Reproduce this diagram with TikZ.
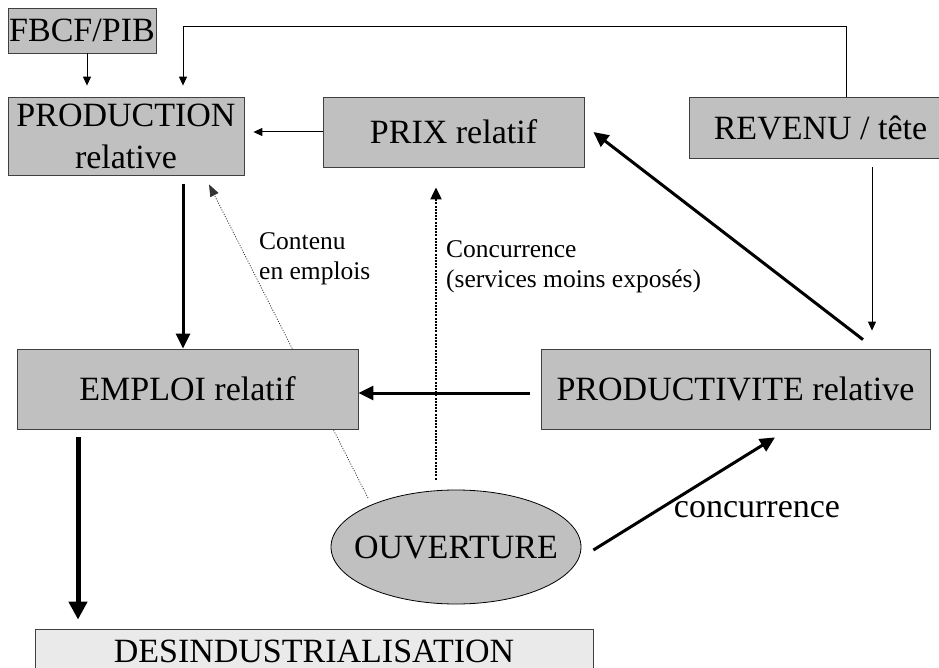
\documentclass[tikz,border=0pt]{standalone}
\usepackage{fontspec}
\setmainfont{Liberation Serif}
\usetikzlibrary{arrows.meta, shapes.geometric, backgrounds}
\definecolor{boxgray}{HTML}{C0C0C0}
\definecolor{pale}{HTML}{EAEAEA}
\definecolor{edge}{HTML}{404040}

\begin{document}
\begin{tikzpicture}[x=1pt, y=-1pt, font=\fontsize{34}{42}\selectfont,
  s/.style={draw=edge, line width=0.8pt, fill=boxgray, inner sep=0pt, align=center},
  ov/.style={ellipse, draw=black, line width=0.8pt, fill=boxgray, inner xsep=-17.2pt, inner ysep=0pt},
  lab/.style={font=\fontsize{25.5}{30}\selectfont, align=left, inner sep=0pt, anchor=west},
  tarr/.style={-{Triangle[length=9pt, width=8pt]}, line width=1pt},
  arr/.style={-{Triangle[length=15pt, width=14pt]}, line width=3pt},
  farr/.style={-{Triangle[length=18pt, width=18pt]}, line width=5pt},
  darr/.style={-{Triangle[length=12pt, width=11pt]}, line width=2pt, dash pattern=on 2pt off 1.2pt},
  fine/.style={-{Triangle[length=12pt, width=9pt]}, line width=0.8pt, dash pattern=on 1pt off 1.5pt, black!80}
]
  \useasboundingbox (0,0) rectangle (939,668);

  \node[s, minimum width=148pt, minimum height=45pt] (fbcf) at (82,30.5) {FBCF/PIB};
  \node[s, minimum width=236pt, minimum height=78pt] (prod) at (126,136) {PRODUCTION\\relative};
  \node[s, minimum width=261pt, minimum height=70pt] (prix) at (453.5,132) {PRIX relatif};
  \node[s, minimum width=263pt, minimum height=61pt] (rev) at (820.5,127.5) {REVENU / tête};
  \node[s, minimum width=341pt, minimum height=80pt, text depth=0pt] (empl) at (187.5,389) {EMPLOI relatif};
  \node[s, minimum width=389pt, minimum height=80pt] (prodv) at (735.5,389) {PRODUCTIVITE relative};
  \node[ov, minimum width=250pt, minimum height=114pt] (ouv) at (456,547) {OUVERTURE};
  \node[s, fill=pale, minimum width=558pt, minimum height=45.5pt] (desind) at (314,651.75) {DESINDUSTRIALISATION};

  \node[inner sep=0pt] (conc) at (757,510) {concurrence};
  \node[lab] (cont) at (259,259) {Contenu\\en emplois};
  \node[lab] (serv) at (446,267) {Concurrence\\(services moins exposés)};

  \coordinate (tr) at (846,27);
  \coordinate (tl) at (183,27);
  \draw[tarr, shorten >=11pt] (tr |- rev.north) -- (tr) -- (tl) -- (tl |- prod.north);
  \draw[tarr, shorten >=11pt] ([xshift=5pt]fbcf.south) -- ([xshift=5pt]fbcf.south |- prod.north);
  \draw[tarr, shorten >=9pt] (prix.west) -- (prix.west -| prod.east);
  \draw[arr, shorten <=9pt] ([xshift=57pt]prod.south) -- ([xshift=57pt]prod.south |- empl.north);
  \draw[farr, shorten <=8pt, shorten >=9pt] ([xshift=-109.5pt]empl.south) -- ([xshift=-109.5pt]empl.south |- desind.north);
  \draw[arr, shorten <=11pt] ([yshift=-4pt]prodv.west) -- ([yshift=-4pt]prodv.west -| empl.east);
  \draw[arr] ([xshift=127.5pt, yshift=9pt]prodv.north) -- ([xshift=9pt]prix.east);
  \draw[tarr, shorten <=9pt, shorten >=18pt] ([xshift=51.5pt]rev.south) -- ([xshift=51.5pt]rev.south |- prodv.north);
  \draw[arr] ([xshift=12pt, yshift=-3pt]ouv.east) -- ([xshift=39.5pt, yshift=-8pt]prodv.south);
  \draw[darr] ([xshift=-20pt, yshift=10pt]ouv.north) -- ([xshift=-17.5pt, yshift=-20pt]prix.south);
  \begin{scope}[on background layer]
    \draw[fine] ([xshift=-88pt, yshift=49pt]ouv.center) -- ([xshift=83pt, yshift=-9pt]prod.south);
  \end{scope}
\end{tikzpicture}
\end{document}
